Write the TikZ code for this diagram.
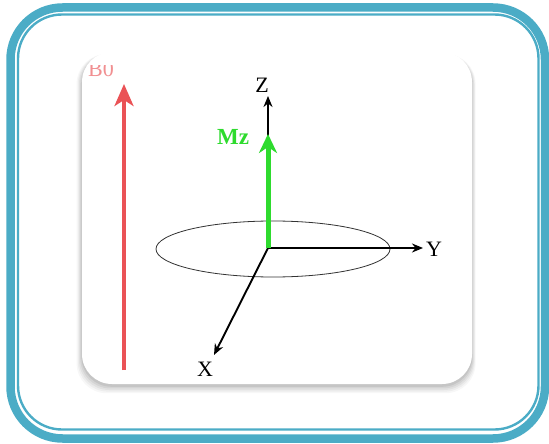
\documentclass[tikz,border=0pt]{standalone}
\usepackage{fontspec}
\setmainfont{Liberation Serif}
\usetikzlibrary{arrows.meta}
\definecolor{frame}{HTML}{4BACC6}
\definecolor{bred}{HTML}{EA5256}
\definecolor{mgreen}{HTML}{2EDB2E}
\tikzset{
  axis/.style={line width=1.9pt,-{Stealth[length=11pt,width=9pt]}},
  lbl/.style={font=\fontsize{22}{22}\selectfont, inner sep=0pt},
}
\begin{document}
\begin{tikzpicture}[x=1pt,y=-1pt]
\useasboundingbox (0,0) rectangle (549,444);
% outer frame
\draw[frame,line width=8.5pt,rounded corners=52pt] (10.5,7.5) rectangle (545,438.5);
\draw[frame,line width=2.4pt,rounded corners=44pt] (18,14.5) rectangle (538.5,429.5);
% card shadow
\foreach \i/\o in {9/0.03,7/0.04,5/0.05,3/0.06,1/0.07}{
  \fill[black,opacity=\o,rounded corners=30pt] (82-\i*0.6,54) rectangle (472+\i*0.4,386+\i*0.8);
}
\fill[white,rounded corners=30pt] (82,52) rectangle (472,384);
% B0
\begin{scope}
\clip (80,66) rectangle (130,90);
\node[lbl,text=bred!65,anchor=base] (b0l) at (101,77) {B0};
\end{scope}
\coordinate (b0s) at (124,370);
\coordinate (b0e) at (124,84);
\draw[bred,line width=3.5pt,-{Stealth[length=22pt,width=19pt,inset=6pt]}] (b0s) -- (b0e);
% axes
\coordinate (O) at (268,248);
\coordinate (zt) at (268,96);
\coordinate (yt) at (423,248);
\coordinate (xt) at (214,355);
\draw[line width=0.8pt,black!80] (273,249) ellipse [x radius=117pt, y radius=28pt];
\draw[axis] (O) -- (zt);
\draw[axis] (O) -- (yt);
\draw[axis] (O) -- (xt);
\draw[mgreen,line width=5pt,-{Stealth[length=19pt,width=18pt,inset=6pt]}] (O) -- (268,134);
\node[lbl] (zl) at (262,85) {Z};
\node[lbl] (yl) at (434,249) {Y};
\node[lbl] (xl) at (205,369) {X};
\node[lbl,text=mgreen,font=\fontsize{23}{23}\selectfont\bfseries] (mzl) at (233,137) {Mz};
\end{tikzpicture}
\end{document}
